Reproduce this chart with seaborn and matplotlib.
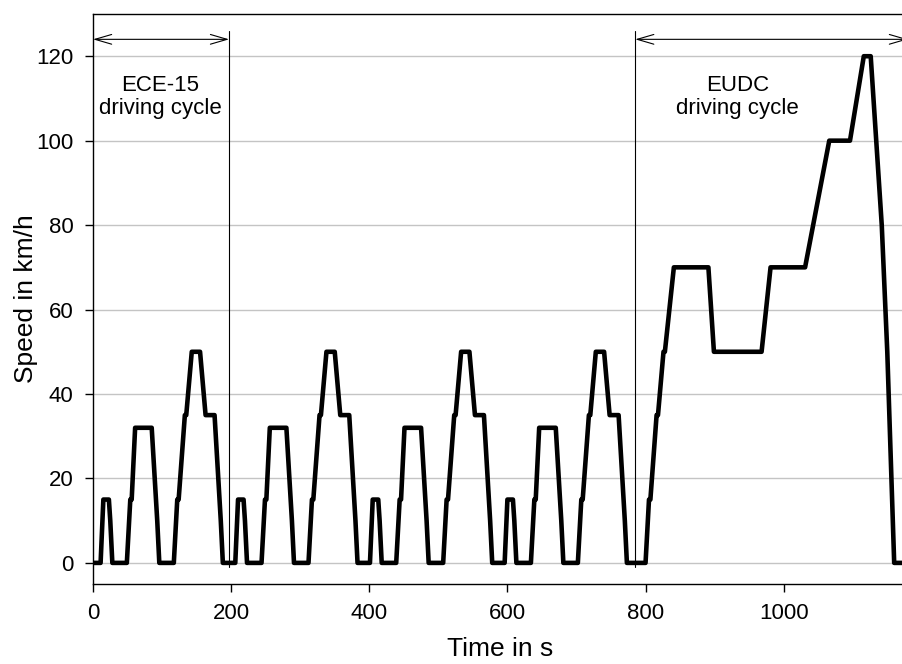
import numpy as np
import pandas as pd
import matplotlib
matplotlib.use("Agg")
import matplotlib.pyplot as plt
import seaborn as sns

# ---------- data: NEDC breakpoints ----------
# one ECE-15 urban cycle (s, km/h), repeated 4 times
ece_time = [0, 11, 15, 23, 25, 28, 49, 54, 56, 61, 85, 93, 96,
            117, 122, 124, 133, 135, 143, 155, 163, 176, 185, 188, 195]
ece_speed = [0, 0, 15, 15, 10, 0, 0, 15, 15, 32, 32, 10, 0,
             0, 15, 15, 35, 35, 50, 50, 35, 35, 10, 0, 0]
ece_repeats = 4
ece_length = 195

# EUDC extra-urban cycle (s from its start, km/h)
eudc_time = [0, 20, 25, 27, 36, 38, 46, 48, 61, 111, 119, 188, 201,
             251, 286, 316, 336, 346, 362, 370, 380, 400]
eudc_speed = [0, 0, 15, 15, 35, 35, 50, 50, 70, 70, 50, 50, 70,
              70, 100, 100, 120, 120, 80, 50, 0, 0]

y_ticks = [0, 20, 40, 60, 80, 100, 120]
x_ticks = [0, 200, 400, 600, 800, 1000]

ece_label = "ECE-15\ndriving cycle"
eudc_label = "EUDC\ndriving cycle"

# ---------- build table ----------
t_all, v_all = [], []
for k in range(ece_repeats):
    t_all += [t + k * ece_length for t in ece_time]
    v_all += ece_speed
eudc_start = ece_repeats * ece_length
t_all += [t + eudc_start for t in eudc_time]
v_all += eudc_speed
df = pd.DataFrame({"Time": t_all, "Speed": v_all}).drop_duplicates("Time")

# ---------- plot ----------
sns.set_style("ticks")
plt.rcParams["font.family"] = ["Liberation Sans", "DejaVu Sans"]
plt.rcParams["text.color"] = "black"
plt.rcParams["axes.labelcolor"] = "black"

fig = plt.figure(figsize=(9.03, 6.64), dpi=100)
ax = fig.add_axes([93 / 903, 1 - 584 / 664, (908 - 93) / 903, (584 - 14) / 664])

for yv in y_ticks:
    ax.axhline(yv, color="#c4c4c4", lw=1.0, zorder=0)

sns.lineplot(data=df, x="Time", y="Speed", color="black", lw=3.3,
             estimator=None, sort=False, ax=ax, zorder=3)

# cycle markers
ax.plot([197, 197], [-1, 126], color="black", lw=0.8)
ax.plot([785, 785], [-1, 126], color="black", lw=0.8)
arrow = dict(arrowstyle="<->,head_length=1.2,head_width=0.35",
             color="black", lw=0.8, shrinkA=0, shrinkB=0, mutation_scale=10)
ax.annotate("", xy=(0, 124), xytext=(197, 124), arrowprops=arrow)
ax.annotate("", xy=(785, 124), xytext=(1180, 124), arrowprops=arrow)
ax.text(97, 110.4, ece_label, ha="center", va="center", fontsize=16,
        linespacing=1.15, color="black")
ax.text(933, 110.4, eudc_label, ha="center", va="center", fontsize=16,
        linespacing=1.15, color="black")

ax.set_xlim(0, 1180)
ax.set_ylim(-5, 130)
ax.set_xticks(x_ticks)
ax.set_yticks(y_ticks)
ax.tick_params(direction="out", length=6, width=1.0, pad=8,
               labelsize=16, color="black", labelcolor="black")
for s in ax.spines.values():
    s.set_linewidth(1.0)
    s.set_color("black")
ax.spines["right"].set_visible(False)

ax.set_xlabel("Time in s", fontsize=19, labelpad=9)
ax.set_ylabel("Speed in km/h", fontsize=19, labelpad=-1)

fig.savefig("out.png", dpi=100)
